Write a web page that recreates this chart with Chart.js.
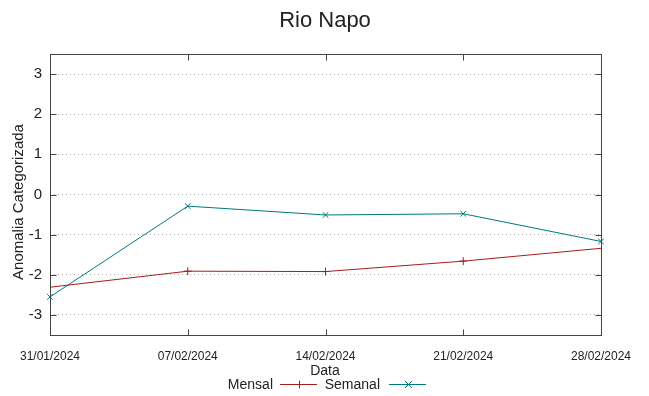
<!DOCTYPE html>
<html>
<head>
<meta charset="utf-8">
<script src="https://cdn.jsdelivr.net/npm/chart.js@4"></script>
<style>
    body { margin: 0; background: #fff; }
    #chart { display: block; }
</style>
</head>
<body>
<canvas id="chart" width="649" height="396"></canvas>
<script>
// Data
const dates = ['31/01/2024', '07/02/2024', '14/02/2024', '21/02/2024', '28/02/2024'];
const mensal = [-2.31, -1.91, -1.92, -1.66, -1.34];
const semanal = [-2.55, -0.29, -0.51, -0.48, -1.17];
const yTicks = [-3, -2, -1, 0, 1, 2, 3];

const RED = '#a51d1d';
const TEAL = '#00797b';
const FONT = '"Liberation Sans", Arial, sans-serif';

// Frame, inward tick marks, title, axis labels and the gnuplot-like key
const gnuplotFrame = {
    id: 'gnuplotFrame',
    afterDraw(chart) {
        const ctx = chart.ctx;
        const area = chart.chartArea;
        const xs = chart.scales.x;
        const ys = chart.scales.y;
        const L = Math.round(area.left) + 0.5;
        const R = Math.round(area.right) + 0.5;
        const T = Math.round(area.top) + 0.5;
        const B = Math.round(area.bottom) + 0.5;
        ctx.save();

        ctx.strokeStyle = '#444';
        ctx.lineWidth = 1;
        ctx.beginPath();
        yTicks.forEach(v => {
            const y = Math.round(ys.getPixelForValue(v)) + 0.5;
            ctx.moveTo(L, y); ctx.lineTo(L + 6, y);
            ctx.moveTo(R, y); ctx.lineTo(R - 6, y);
        });
        dates.forEach((d, i) => {
            const x = Math.round(xs.getPixelForValue(i)) + 0.5;
            ctx.moveTo(x, T); ctx.lineTo(x, T + 6);
            ctx.moveTo(x, B); ctx.lineTo(x, B - 6);
        });
        ctx.stroke();
        ctx.strokeRect(L, T, R - L, B - T);

        ctx.fillStyle = '#222';
        ctx.textAlign = 'center';
        ctx.textBaseline = 'alphabetic';
        ctx.font = '22px ' + FONT;
        ctx.fillText('Rio Napo', 325, 27);

        ctx.font = '14px ' + FONT;
        ctx.fillText('Data', 325, 375);

        ctx.save();
        ctx.translate(19, 202);
        ctx.rotate(-Math.PI / 2);
        ctx.textBaseline = 'middle';
        ctx.font = '15px ' + FONT;
        ctx.fillText('Anomalia Categorizada', 0, 0);
        ctx.restore();

        // key
        const keys = [
            { label: 'Mensal', color: RED, textEnd: 273, x0: 280, x1: 317, cross: false },
            { label: 'Semanal', color: TEAL, textEnd: 380, x0: 389, x1: 426, cross: true }
        ];
        const ky = 384.5;
        keys.forEach(k => {
            ctx.fillStyle = '#222';
            ctx.textAlign = 'right';
            ctx.font = '14px ' + FONT;
            ctx.fillText(k.label, k.textEnd, 389);
            ctx.strokeStyle = k.color;
            ctx.beginPath();
            ctx.moveTo(k.x0, ky); ctx.lineTo(k.x1, ky);
            const mx = Math.round((k.x0 + k.x1) / 2) + 0.5;
            if (k.cross) {
                ctx.moveTo(mx - 3.5, ky - 3.5); ctx.lineTo(mx + 3.5, ky + 3.5);
                ctx.moveTo(mx - 3.5, ky + 3.5); ctx.lineTo(mx + 3.5, ky - 3.5);
            } else {
                ctx.moveTo(mx, ky - 4); ctx.lineTo(mx, ky + 4);
            }
            ctx.stroke();
        });
        ctx.restore();
    }
};

new Chart(document.getElementById('chart'), {
    type: 'line',
    data: {
        labels: dates,
        datasets: [{
            label: 'Mensal',
            data: mensal,
            borderColor: RED,
            backgroundColor: RED,
            borderWidth: 1,
            pointStyle: 'cross',
            pointRadius: [0, 4, 4, 4, 0],
            pointBorderWidth: 1,
            tension: 0
        }, {
            label: 'Semanal',
            data: semanal,
            borderColor: TEAL,
            backgroundColor: TEAL,
            borderWidth: 1,
            pointStyle: 'crossRot',
            pointRadius: 4,
            pointBorderWidth: 1,
            tension: 0,
            clip: false
        }]
    },
    options: {
        responsive: false,
        animation: false,
        layout: { padding: { top: 54, right: 48, left: 0, bottom: 0 } },
        plugins: {
            legend: { display: false },
            title: { display: false },
            tooltip: { enabled: false }
        },
        scales: {
            x: {
                type: 'category',
                offset: false,
                grid: { display: false, drawTicks: false },
                border: { display: false },
                ticks: {
                    color: '#222',
                    font: { family: FONT, size: 12 },
                    padding: 14,
                    maxRotation: 0,
                    autoSkip: false
                },
                afterFit(scale) { scale.height = 61; }
            },
            y: {
                min: -3.5,
                max: 3.5,
                afterBuildTicks(scale) {
                    scale.ticks = yTicks.map(v => ({ value: v }));
                },
                grid: { color: '#aaa', lineWidth: 1, drawTicks: false },
                border: { display: false, dash: [1, 3] },
                ticks: {
                    color: '#222',
                    font: { family: FONT, size: 15 },
                    padding: 8
                },
                afterFit(scale) { scale.width = 50; }
            }
        }
    },
    plugins: [gnuplotFrame]
});
</script>
</body>
</html>
